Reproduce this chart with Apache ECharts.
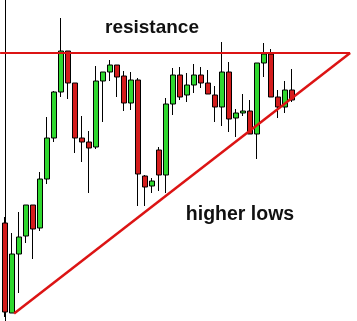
<!DOCTYPE html>
<html>
<head>
<meta charset="utf-8">
<script src="https://cdn.jsdelivr.net/npm/echarts@6/dist/echarts.min.js"></script>
<style>html,body{margin:0;padding:0;background:#fff;}#c{width:357px;height:321px;}</style>
</head>
<body>
<div id="c"></div>
<script>
// candle values: [open, close, low, high]
var opens  = [98, 8, 67, 85, 116, 93, 142, 183, 229, 270, 238, 183, 179, 174, 240, 249, 256, 245, 218, 241, 145, 135, 171, 146, 217, 246, 226, 236, 246, 238, 226, 214, 249, 203, 208, 210, 187, 258, 267, 224, 214, 231];
var closes = [9, 67, 84, 116, 92, 142, 183, 229, 270, 238, 183, 179, 173, 240, 249, 256, 244, 218, 241, 147, 134, 140, 146, 217, 246, 224, 236, 246, 238, 227, 214, 249, 202, 208, 210, 187, 258, 267, 224, 214, 231, 221];
var lows   = [4, 8, 28, 78, 62, 90, 137, 179, 224, 222, 168, 159, 128, 172, 199, 240, 224, 210, 211, 115, 115, 128, 130, 128, 206, 221, 219, 228, 233, 227, 199, 195, 189, 184, 205, 187, 162, 244, 224, 203, 208, 219];
var highs  = [104, 88, 109, 116, 116, 149, 204, 230, 303, 270, 238, 205, 190, 255, 249, 261, 256, 250, 249, 243, 146, 143, 174, 223, 253, 254, 248, 257, 254, 251, 235, 279, 259, 212, 227, 221, 258, 278, 272, 231, 240, 252];
var slotCount = 50;
var resistanceLine = [[-0.7, 268], [49.3, 268]];
var supportLine = [[1.3, 7.5], [49.3, 268]];
var labelTop = 'resistance';
var labelBottom = 'higher lows';

var cats = [];
for (var i = 0; i < slotCount; i++) cats.push(String(i + 1));
var candles = opens.map(function (o, i) { return [o, closes[i], lows[i], highs[i]]; });

var chart = echarts.init(document.getElementById('c'), null, {renderer: 'canvas'});
chart.setOption({
  animation: false,
  backgroundColor: '#ffffff',
  grid: {left: 1.5, right: 5.5, top: 0, bottom: 0},
  xAxis: [
    {type: 'category', data: cats, boundaryGap: true, show: false},
    {type: 'value', min: -0.5, max: slotCount - 0.5, show: false}
  ],
  yAxis: {
    type: 'value', min: 0, max: 321, offset: 1,
    axisLine: {show: true, lineStyle: {color: '#000', width: 1}},
    axisTick: {show: false}, axisLabel: {show: false}, splitLine: {show: false}
  },
  series: [
    {
      type: 'candlestick', xAxisIndex: 0, data: candles, barWidth: 5,
      itemStyle: {color: '#2fd82f', color0: '#d41c1c', borderColor: '#000', borderColor0: '#000', borderWidth: 1}
    },
    {type: 'line', xAxisIndex: 1, data: resistanceLine, symbol: 'none', clip: false,
     lineStyle: {color: '#dc1414', width: 2}},
    {type: 'line', xAxisIndex: 1, data: supportLine, symbol: 'none', clip: false,
     lineStyle: {color: '#dc1414', width: 2.5}}
  ],
  graphic: [
    {type: 'text', x: 152, y: 27.7, style: {text: labelTop, font: 'bold 19px "Liberation Sans", Arial, sans-serif', fill: '#111', align: 'center', verticalAlign: 'middle'}},
    {type: 'text', x: 240, y: 214.2, style: {text: labelBottom, font: 'bold 19.5px "Liberation Sans", Arial, sans-serif', fill: '#111', align: 'center', verticalAlign: 'middle'}}
  ]
});
</script>
</body>
</html>
